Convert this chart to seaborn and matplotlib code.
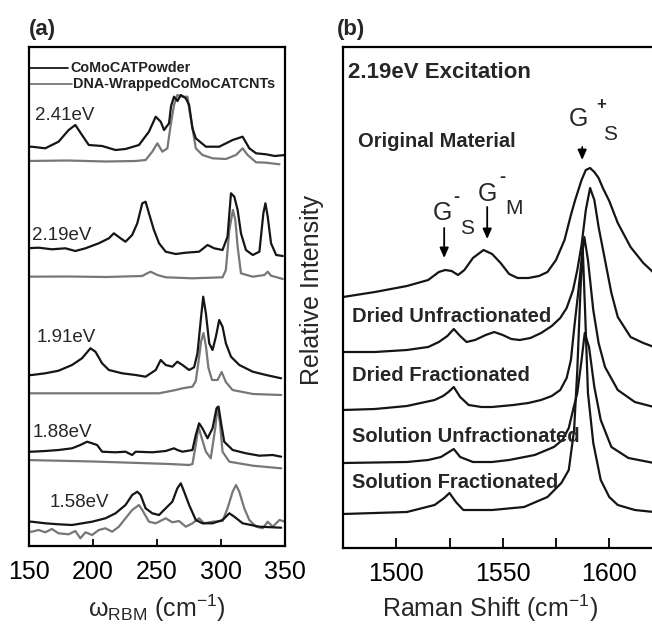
import matplotlib
matplotlib.use("Agg")
import matplotlib.pyplot as plt
from matplotlib import font_manager
import seaborn as sns

# ---------------- data: panel (a) RBM spectra (relative intensity, stacked) ----------------
A241_bx = [148,152.2,162.7,173.1,181,186.2,191.4,196.7,207.1,217.6,225.4,235.9,243.7,249,252.9,255.5,259.4,261,263.3,266,268.6,272.5,275.1,277.7,280.3,288.2,298.6,309.1,316.9,322.1,327.4,335.2,342,350]
A241_b = [399,399.3,397.7,404.3,416,421,411,401,400,396,397,401,414.3,429.3,424.3,416,422.7,440,449.3,445,451,447.7,441,417.7,407.7,399.3,399.3,406,409.3,397.7,392.7,391.7,390,391]
A241_gx = [148,180,210,233.3,241.1,246.3,250.3,254.2,258.1,260.7,263.3,265.9,269.9,273.8,275.1,277.7,280.3,285.5,293.4,303.8,311.7,316.9,320.8,327.4,335.2,345.7]
A241_g = [385,385.5,384.5,385,386,394.3,402.7,394.3,397.7,421,441,451,449.3,449.3,437.7,417.7,397.7,391,387.7,387,391,397.7,391,383.7,383.3,381.7]

A219_bx = [147,157.5,167.9,178.4,186.2,194.1,204.5,212.4,216.3,221.5,225.4,230.6,234.6,238.5,241.1,243.7,247.6,251.6,256.8,264.6,272.5,282.9,289.5,294.7,301.2,305.1,307.8,310.4,313,315.6,319.5,324.8,330,333.1,334.7,336.5,339.1,343.1,348.3]
A219_b = [297.7,298.3,296.7,297.7,295,297.7,302.7,307.7,312.7,307.7,304.3,311,322.7,342.7,344.3,332.7,316,302.7,294.3,292,293.3,294.3,301,297.7,296,309.3,352.7,349.3,336,312.7,296,291,294.3,332.7,342.7,329.3,302.7,291,290]
A219_gx = [147,180,210,238.5,242,245,250.3,256.8,277.7,301.2,303.8,306.5,309.3,311.2,313,315.6,324.8,333.9,336.5,339.1,348.3]
A219_g = [269.3,269.5,269.0,270,272.5,274.3,271,268.7,267.7,268.7,276,316,336,326,299.3,272.7,269.3,271,274.3,270.3,267]

A191_bx = [147,152.2,162.7,173.1,183.6,191.4,198,201.9,207.1,212.4,222.8,233.3,241.1,249,252.9,256.8,262,265.9,269.9,275.1,279,281.6,284.2,286.1,288.2,290.8,293.4,296,298.6,301.2,303.8,307.8,314.3,324.8,335.2,347]
A191_b = [171,171,172.7,175.3,181,187.7,197.7,194.3,182.7,176,172.7,171,169.3,176,186,181,179.3,184.3,181,176,178.7,192.7,226,249.3,232.7,202.7,196,209.3,226,219.3,202.7,189.3,181,174.3,171,167.7]
A191_gx = [147,200,251.6,264.6,269.9,277.7,280.3,282.5,284.5,286.3,288.2,290.2,293,297.3,300.5,303.8,309,325,347]
A191_g = [152.7,152.7,152.7,156,157.7,159.3,165,185,205,213,200,178,166,166,174,164,156,152,151]

A188_bx = [147,152.2,162.7,173.1,183.6,190.1,195.4,199.3,203.2,207.1,217.6,225.4,230.6,233.3,246.3,256.8,263.3,265.9,269.9,277.7,280.3,282.9,285.5,289.5,293.4,296.5,298.1,299.9,302.5,309.1,319.5,330,340.4,347]
A188_b = [94.3,94.3,95,96,97.7,101,104.3,102.7,101,94.3,93.7,94.3,91,94.3,93.7,95,97.7,96,94.3,96,111,122.7,117.7,107.7,117.7,137.7,139.3,124.3,104.3,96,92.7,90.3,91,89.3]
A188_gx = [147,200,260,275.1,277.7,280.3,282.4,285,288.2,292,295.5,297.3,299.1,301.2,306.5,324.8,347]
A188_g = [86,84.5,82,81,82,101,119.3,107.7,94.3,87.7,117.7,139.3,124,94.3,84.3,80.3,77.7]

A158_bx = [147,152.2,162.7,173.1,183.6,199.3,209.7,217.6,225.4,230.6,234.6,237.2,241.1,246.3,251.6,256.8,262,265.9,268.6,271.2,275.1,280.3,285.5,293.4,301.2,306.5,310.4,316.9,330,347]
A158_b = [24.3,24.3,22.7,21.7,21,24.3,27.7,32.7,41,51,54.3,51,37.7,32.7,31,37.7,44.3,57.7,62.7,54.3,41,26,22.7,22.7,26,32.7,29.3,22.7,19.3,18.3]
A158_gx = [147,152.2,157.5,162.7,167.9,173.1,181,186.2,190.1,194.1,199.3,204.5,209.7,215,220.2,225.4,230.6,235.9,238.5,243.7,249,256.8,262,267.2,272.5,277.7,282.9,286.8,293.4,301.2,305.1,309.1,311.7,314.3,318.2,322.1,327.4,332.6,336.5,340.4,345.7,350]
A158_g = [14.3,14.3,16,13.7,17,12.7,11.7,15,7.7,13.7,11,16,17.7,14.3,19.3,27.7,36,41,36,24.3,22.7,27.7,23.7,25,19.3,22.7,27.7,22.7,24.3,25,37.7,54.3,61,54.3,37.7,26,19.3,17.7,24.3,19.3,26,24.3]

A_labels = ["2.41eV", "2.19eV", "1.91eV", "1.88eV", "1.58eV"]
A_ticks = [150, 200, 250, 300, 350]
A_legend = ["CoMoCATPowder", "DNA-WrappedCoMoCATCNTs"]

# ---------------- data: panel (b) G-band spectra ----------------
B_orig_x = [1475,1490,1505,1515,1520,1523,1526,1529,1532,1536,1541,1545,1549,1553,1557,1562,1567,1571,1575,1579,1582,1584,1587,1589,1591,1593,1595,1597,1600,1604,1610,1616,1621,1626]
B_orig = [251,256,262,268,276,278,277,273,278,290,298,294,285,274,270,270,272,276,288,308,333,348,368,378,380,376,370,360,347,325,301,285,275,267]
B_du_x = [1475,1490,1505,1515,1520,1524,1527,1530,1533,1537,1542,1546,1550,1554,1558,1563,1568,1573,1577,1580,1583,1585,1587,1589,1591,1593,1595,1598,1601,1604,1610,1616,1621,1626]
B_du = [196,196,198,201,206,212,219,212,206,208,213,216,213,209,208,210,215,222,230,240,258,278,303,338,360,348,321,288,255,231,211,205,201,200]
B_df_x = [1475,1490,1505,1518,1522,1524.5,1527,1530,1534,1540,1545,1550,1555,1562,1568,1573,1577,1580,1582,1583.6,1585.4,1587,1588.3,1590,1592.5,1595,1598,1604,1612,1621,1626]
B_df = [138,139,142,148,152,156,161,151,143,141,141,142,143,145,148,152,158,170,188,221,255,288,311,288,238,205,181,158,146,141,140]
B_su_x = [1475,1505,1515,1521,1524,1527,1530,1536,1545,1553,1565,1574,1578,1581,1583,1585,1587,1588.5,1590.5,1593,1596,1601,1609,1621,1626]
B_su = [85,86,88,91,95,99,91,86,86,88,93,101,108,120,138,155,188,215,201,161,128,101,90,85,84]
B_sf_x = [1475,1490,1505,1518,1522.5,1525,1528,1531.5,1545,1560,1571,1577.5,1581,1583.5,1585,1586.5,1587.5,1588.8,1590,1592.5,1596,1600,1604,1612,1621,1626]
B_sf = [34,35,36,43,50,55,46,38,38,41,51,65,78,118,178,258,303,228,155,105,68,51,43,38,36,36]

B_labels = ["Original Material", "Dried Unfractionated", "Dried Fractionated",
            "Solution Unfractionated", "Solution Fractionated"]
B_major = [1500, 1550, 1600]
B_minor = [1525, 1575]

# ---------------- style ----------------
sns.set_theme(style="white")
plt.rcParams["font.family"] = ["Liberation Sans", "DejaVu Sans"]
plt.rcParams["mathtext.fontset"] = "custom"
plt.rcParams["mathtext.rm"] = "Liberation Sans"
plt.rcParams["mathtext.it"] = "Liberation Sans"

names = {f.name for f in font_manager.fontManager.ttflist}
narrow = "Liberation Sans Narrow" if "Liberation Sans Narrow" in names else "Liberation Sans"
narrow_size = 12.5 if narrow == "Liberation Sans Narrow" else 10.4

W, H = 652, 624
fig = plt.figure(figsize=(W / 100, H / 100), dpi=100)
BLACK = "#151515"
GRAY = "#777777"
LW = 1.6


def fax(l, t, r, b):
    return fig.add_axes([l / W, 1 - b / H, (r - l) / W, (b - t) / H])


def ftext(px, py, s, **kw):
    fig.text(px / W, 1 - py / H, s, **kw)


# ---------------- panel (a) ----------------
axa = fax(29, 47, 285, 546)
pairs_a = [(A241_bx, A241_b, A241_gx, A241_g), (A219_bx, A219_b, A219_gx, A219_g),
           (A191_bx, A191_b, A191_gx, A191_g), (A188_bx, A188_b, A188_gx, A188_g),
           (A158_bx, A158_b, A158_gx, A158_g)]
for bx, b, gx, g in pairs_a:
    sns.lineplot(x=gx, y=g, ax=axa, color=GRAY, lw=LW)
    sns.lineplot(x=bx, y=b, ax=axa, color=BLACK, lw=LW)
axa.set_xlim(150, 350)
axa.set_ylim(0, 499)
axa.set_yticks([])
axa.set_xticks(A_ticks)
axa.set_xticklabels([str(t) for t in A_ticks])
axa.tick_params(axis="x", direction="in", length=5, width=1.3, labelsize=18, pad=10,
                bottom=True, colors="black")
for s in axa.spines.values():
    s.set_linewidth(1.6)
    s.set_color("black")
axa.set_xlabel(r"$\mathregular{\omega_{RBM}}$ (cm$^{\mathregular{-1}}$)", fontsize=18, labelpad=6)

# legend drawn as in the original
axa.plot([0, 0.153], [0.958, 0.958], transform=axa.transAxes, color=BLACK, lw=1.3)
axa.plot([0, 0.168], [0.925, 0.925], transform=axa.transAxes, color=GRAY, lw=1.3)
ftext(70, 72, A_legend[0], family=narrow, weight="bold", fontsize=narrow_size, color="#222222")
ftext(73, 88, A_legend[1], family=narrow, weight="bold", fontsize=narrow_size, color="#222222")

for lab, (lx, ly) in zip(A_labels, [(35, 120), (32, 240), (37, 342), (33, 437), (50, 507)]):
    ftext(lx, ly, lab, fontsize=13.5, va="baseline")

ftext(29, 35, "(a)", fontsize=16, weight="bold", va="baseline")

# ---------------- panel (b) ----------------
axb = fax(343, 47, 343 + 150 * 2.13, 548)
for bx, by in [(B_orig_x, B_orig), (B_du_x, B_du), (B_df_x, B_df), (B_su_x, B_su), (B_sf_x, B_sf)]:
    sns.lineplot(x=bx, y=by, ax=axb, color=BLACK, lw=LW)
axb.set_xlim(1475, 1625)
axb.set_ylim(0, 501)
axb.set_yticks([])
axb.set_xticks(B_major)
axb.set_xticklabels([str(t) for t in B_major])
axb.set_xticks(B_minor, minor=True)
axb.tick_params(axis="x", which="both", direction="in", length=7, width=1.3, labelsize=18,
                pad=10, bottom=True, colors="black")
for s in axb.spines.values():
    s.set_linewidth(1.6)
    s.set_color("black")
axb.set_xlabel(r"Raman Shift (cm$^{\mathregular{-1}}$)", fontsize=18)
axb.xaxis.set_label_coords(0.46, -0.09)
axb.set_ylabel("Relative Intensity", fontsize=18)
axb.yaxis.set_label_coords(-0.058, 0.515)

ftext(348, 78, "2.19eV Excitation", fontsize=16, weight="bold", va="baseline")
for lab, (lx, ly) in zip(B_labels, [(358, 147), (352, 322), (352, 381), (352, 442), (352, 488)]):
    ftext(lx, ly, lab, fontsize=14.5, weight="bold", va="baseline")

# peak annotations
arrow_kw = dict(arrowstyle="-|>,head_length=0.5,head_width=0.22", color="black", lw=1.3,
                shrinkA=0, shrinkB=0)
axb.annotate("", xy=(1522.5, 290), xytext=(1522.5, 320), arrowprops=arrow_kw)
axb.annotate("", xy=(1542.7, 309), xytext=(1542.7, 341), arrowprops=arrow_kw)
axb.annotate("", xy=(1587.3, 388), xytext=(1587.3, 401), arrowprops=arrow_kw)

ftext(442, 213, "G", fontsize=18, ha="center", va="center")
ftext(456, 198, "-", fontsize=13, weight="bold", ha="center", va="center")
ftext(467, 228, "S", fontsize=15, ha="center", va="center")
ftext(487, 194, "G", fontsize=18, ha="center", va="center")
ftext(502, 178, "-", fontsize=13, weight="bold", ha="center", va="center")
ftext(514, 209, "M", fontsize=15, ha="center", va="center")
ftext(578, 119, "G", fontsize=18, ha="center", va="center")
ftext(601, 105, "+", fontsize=12, weight="bold", ha="center", va="center")
ftext(610, 135, "S", fontsize=15, ha="center", va="center")

ftext(337, 35, "(b)", fontsize=16, weight="bold", va="baseline")

fig.savefig("out.png", dpi=100)
